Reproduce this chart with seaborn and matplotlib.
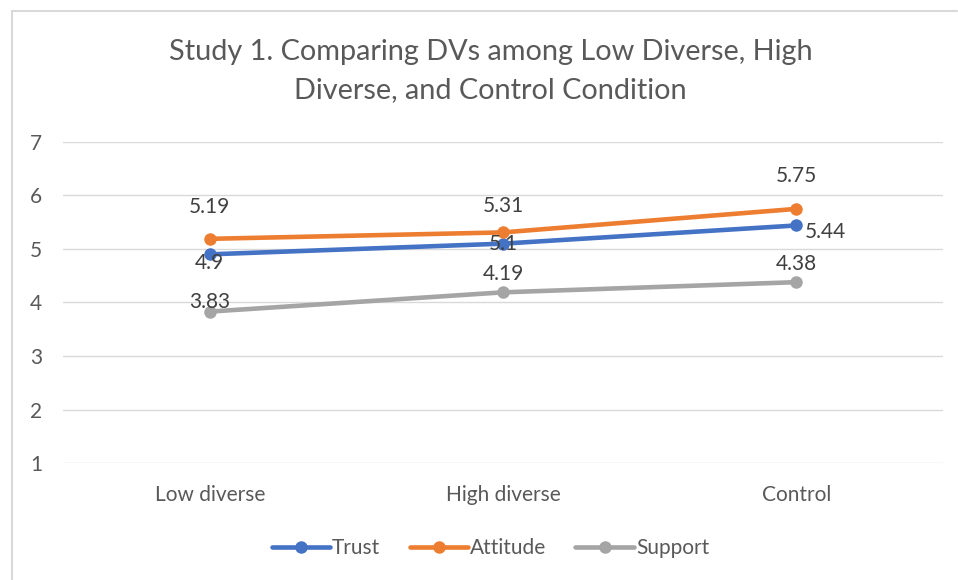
import matplotlib
matplotlib.use("Agg")
import matplotlib.pyplot as plt
from matplotlib.lines import Line2D
import pandas as pd
import seaborn as sns

conditions = ["Low diverse", "High diverse", "Control"]
trust = [4.9, 5.1, 5.44]
attitude = [5.19, 5.31, 5.75]
support = [3.83, 4.19, 4.38]
series_names = ["Trust", "Attitude", "Support"]
colors = ["#4472C4", "#ED7D31", "#A5A5A5"]

df = pd.DataFrame({
    "condition": conditions * 3,
    "value": trust + attitude + support,
    "measure": [s for s in series_names for _ in conditions],
})

sns.set_style("white")
plt.rcParams["font.family"] = ["Lato", "DejaVu Sans"]

fig = plt.figure(figsize=(9.58, 5.8), dpi=100)
ax = fig.add_axes([0.0658, 0.2017, 0.9186, 0.5535])

sns.lineplot(data=df, x="condition", y="value", hue="measure",
             palette=dict(zip(series_names, colors)), marker="o",
             markersize=9, markeredgewidth=0, linewidth=3.3,
             legend=False, ax=ax, sort=False)

ax.set_xlim(-0.5, 2.5)
ax.set_ylim(1, 7)
ax.set_yticks(range(1, 8))
ax.grid(axis="y", color="#D9D9D9", linewidth=1)
ax.set_axisbelow(True)
for s in ax.spines.values():
    s.set_visible(False)
ax.set_xlabel("")
ax.set_ylabel("")
ax.tick_params(axis="both", length=0, labelsize=15, labelcolor="#595959")
ax.tick_params(axis="y", pad=15)
ax.tick_params(axis="x", pad=16)

# data labels: (dx, dy) offsets in points
label_offsets = {
    "Trust": [(0, -6), (0, 0), (21, -5)],
    "Attitude": [(0, 23), (0, 19), (0, 24)],
    "Support": [(0, 7), (0, 13), (0, 13)],
}
for name, vals in zip(series_names, [trust, attitude, support]):
    for i, v in enumerate(vals):
        dx, dy = label_offsets[name][i]
        ax.annotate(f"{v:g}", (i, v), xytext=(dx, dy), textcoords="offset points",
                    ha="center", va="center", fontsize=15, color="#404040")

fig.text(0.512, 0.91, "Study 1. Comparing DVs among Low Diverse, High",
         ha="center", va="center", fontsize=20.8, color="#595959")
fig.text(0.512, 0.845, "Diverse, and Control Condition",
         ha="center", va="center", fontsize=20.8, color="#595959")

handles = [Line2D([0], [0], color=c, linewidth=3.3, marker="o", markersize=9,
                  markeredgewidth=0) for c in colors]
fig.legend(handles, series_names, loc="center", bbox_to_anchor=(0.512, 0.055),
           ncol=3, frameon=False, fontsize=15, labelcolor="#595959",
           handlelength=2.8, handletextpad=0.1, columnspacing=1.4)

# chart border (left and top edges visible)
fig.add_artist(Line2D([0.0125, 0.0125], [0, 0.981], color="#D9D9D9", linewidth=1.5))
fig.add_artist(Line2D([0.0125, 0.999], [0.981, 0.981], color="#D9D9D9", linewidth=1.5))

fig.savefig("out.png", dpi=100)
